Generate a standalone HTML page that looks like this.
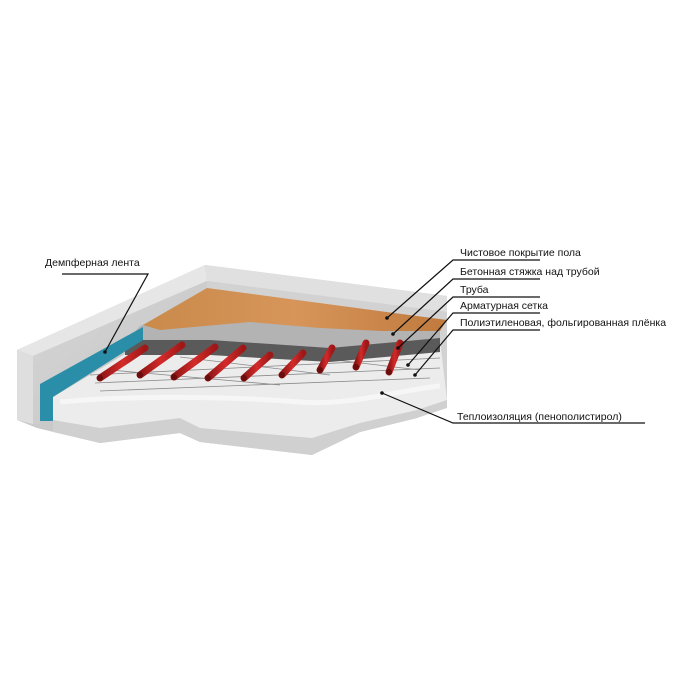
<!DOCTYPE html>
<html><head><meta charset="utf-8"><style>
html,body{margin:0;padding:0;background:#fff;width:700px;height:700px;overflow:hidden}
text{font-family:"Liberation Sans","DejaVu Sans",sans-serif;font-size:10.5px;fill:#111}
</style></head><body>
<svg width="700" height="700" viewBox="0 0 700 700" xmlns="http://www.w3.org/2000/svg">
<defs>
<linearGradient id="wall" x1="0" y1="0" x2="1" y2="1"><stop offset="0" stop-color="#d6d6d6"/><stop offset="1" stop-color="#c4c4c4"/></linearGradient>
<linearGradient id="wood" x1="0" y1="0" x2="1" y2="0"><stop offset="0" stop-color="#c98a4a"/><stop offset="0.5" stop-color="#d7955a"/><stop offset="1" stop-color="#c07a3e"/></linearGradient>
<linearGradient id="pipe" x1="0" y1="0" x2="1" y2="0"><stop offset="0" stop-color="#8e1515"/><stop offset="0.5" stop-color="#d42a2a"/><stop offset="1" stop-color="#9e1818"/></linearGradient>
</defs>
<!-- base slab -->
<polygon points="17,350 205,265 447,296 447,405 417,418 360,432 312,455 200,442 180,433 100,443 37,428 17,420" fill="#c9c9c9"/>
<!-- wall top edge -->
<polygon points="17,350 205,265 207,281 33,356" fill="#e6e6e6"/>
<!-- left wall inner face -->
<polygon points="33,356 207,281 207,330 143,327 40,384 40,425 33,424" fill="url(#wall)"/>
<!-- end face -->
<polygon points="17,350 33,356 33,424 17,420" fill="#dedede"/>
<!-- back wall -->
<polygon points="207,281 205,265 447,296 447,312" fill="#e0e0e0"/>
<polygon points="207,281 447,312 447,400 207,330" fill="#d2d2d2"/>
<!-- insulation -->
<polygon points="53,397 140,345 440,340 447,400 417,412 360,425 312,440 200,430 180,420 100,430 53,420" fill="#ececec"/>
<polygon points="53,420 100,428 180,418 200,428 312,438 360,423 417,410 447,400 447,408 417,418 360,432 312,455 200,442 180,433 100,443 53,432" fill="#d0d0d0"/>
<path d="M60,402 C150,394 250,398 300,402 S400,390 440,386" stroke="#f6f6f6" stroke-width="5" fill="none"/>
<!-- mesh -->
<g stroke="#8a8a8a" stroke-width="0.8">
<line x1="90" y1="375" x2="440" y2="358"/>
<line x1="95" y1="383" x2="440" y2="368"/>
<line x1="100" y1="391" x2="430" y2="378"/>
<line x1="110" y1="370" x2="280" y2="385"/>
<line x1="180" y1="357" x2="330" y2="375"/>
<line x1="250" y1="350" x2="420" y2="370"/>
</g>
<!-- dark mesh band / concrete -->
<polygon points="125,338 210,338 330,345 440,334 440,352 330,362 210,355 125,355" fill="#5a5a5a"/>
<polygon points="140,326 207,300 440,325 440,338 330,348 210,340 128,340" fill="#b3b3b3"/>
<!-- wood -->
<polygon points="143,325 207,288 447,320 440,331 383,331 320,328 250,322 160,330" fill="url(#wood)"/>
<!-- blue tape -->
<polygon points="40,384 143,327 143,340 53,397 53,421 40,421" fill="#2a8ea8"/>
<!-- pipes -->
<g stroke="url(#pipe)" stroke-width="7" stroke-linecap="round">
<line x1="100" y1="378" x2="145" y2="348"/>
<line x1="140" y1="375" x2="182" y2="345"/>
<line x1="174" y1="377" x2="215" y2="347"/>
<line x1="208" y1="378" x2="243" y2="348"/>
<line x1="244" y1="378" x2="270" y2="355"/>
<line x1="282" y1="375" x2="303" y2="353"/>
<line x1="320" y1="370" x2="332" y2="348"/>
<line x1="356" y1="367" x2="366" y2="343"/>
<line x1="389" y1="372" x2="400" y2="343"/>
</g>
<g><circle cx="100" cy="378" r="3" fill="#6a0c0c"/><circle cx="140" cy="375" r="3" fill="#6a0c0c"/><circle cx="174" cy="377" r="3" fill="#6a0c0c"/><circle cx="208" cy="378" r="3" fill="#6a0c0c"/><circle cx="244" cy="378" r="3" fill="#6a0c0c"/><circle cx="282" cy="375" r="3" fill="#6a0c0c"/><circle cx="320" cy="370" r="3" fill="#6a0c0c"/><circle cx="356" cy="367" r="3" fill="#6a0c0c"/><circle cx="389" cy="372" r="3" fill="#6a0c0c"/></g>
<!-- leaders -->
<g stroke="#111" stroke-width="1.2" fill="none">
<polyline points="62,274 148,274 105,352"/>
<polyline points="540,260 453,260 387,318"/>
<polyline points="540,279 453,279 393,334"/>
<polyline points="540,297 453,297 398,348"/>
<polyline points="540,313 453,313 408,365"/>
<polyline points="540,330 453,330 415,375"/>
<polyline points="645,423 453,423 382,393"/>
</g>
<g fill="#111"><circle cx="105" cy="352" r="1.8"/><circle cx="387" cy="318" r="1.8"/><circle cx="393" cy="334" r="1.8"/><circle cx="398" cy="348" r="1.8"/><circle cx="408" cy="365" r="1.8"/><circle cx="415" cy="375" r="1.8"/><circle cx="382" cy="393" r="1.8"/></g>
<text x="45" y="266">Демпферная лента</text>
<text x="460" y="256">Чистовое покрытие пола</text>
<text x="460" y="275">Бетонная стяжка над трубой</text>
<text x="460" y="293">Труба</text>
<text x="460" y="309">Арматурная сетка</text>
<text x="460" y="326">Полиэтиленовая, фольгированная плёнка</text>
<text x="457" y="420">Теплоизоляция (пенополистирол)</text>
</svg>
</body></html>
